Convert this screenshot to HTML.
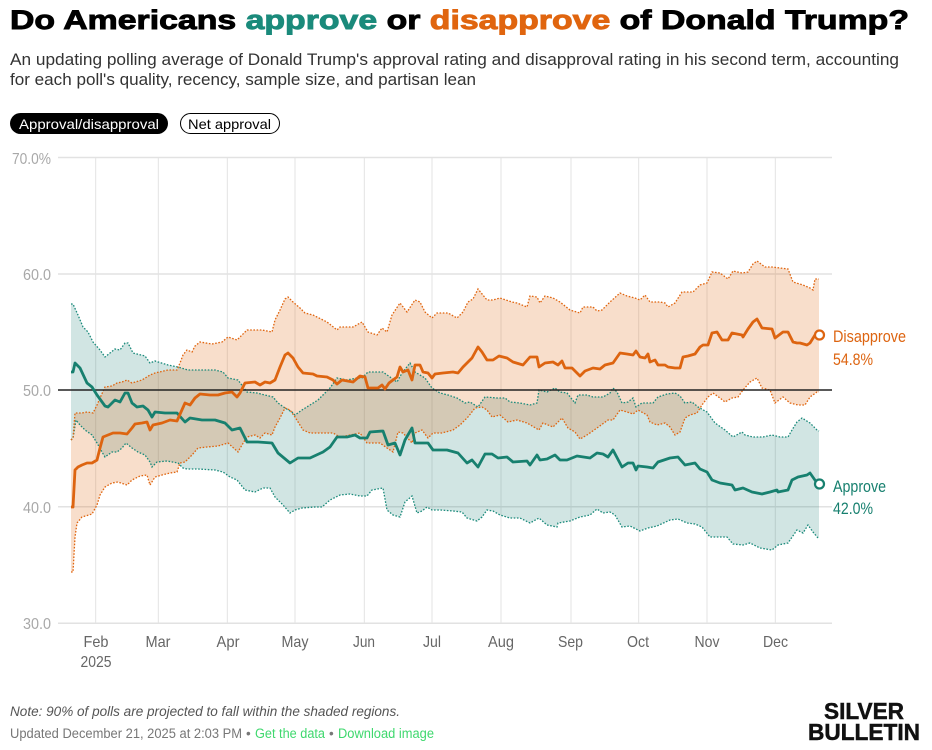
<!DOCTYPE html>
<html><head><meta charset="utf-8"><style>
html,body{margin:0;padding:0;background:#fff;}
svg{display:block;font-family:"Liberation Sans",Arial,sans-serif;}
</style></head><body>
<svg width="932" height="750" viewBox="0 0 932 750" xmlns="http://www.w3.org/2000/svg">
<rect width="932" height="750" fill="#fff"/>
<!-- Title -->
<text x="10" y="29" font-size="27" font-weight="900" textLength="899" lengthAdjust="spacingAndGlyphs" fill="#000" stroke="#000" stroke-width="0.9"><tspan>Do Americans </tspan><tspan fill="#1a8a7b" stroke="#1a8a7b">approve</tspan><tspan> or </tspan><tspan fill="#e0650f" stroke="#e0650f">disapprove</tspan><tspan> of Donald Trump?</tspan></text>
<text x="10" y="65" font-size="16.5" fill="#333" textLength="889" lengthAdjust="spacingAndGlyphs">An updating polling average of Donald Trump's approval rating and disapproval rating in his second term, accounting</text>
<text x="10" y="85" font-size="16.5" fill="#333" textLength="466" lengthAdjust="spacingAndGlyphs">for each poll's quality, recency, sample size, and partisan lean</text>
<!-- Toggles -->
<rect x="10" y="113" width="158" height="21" rx="10.5" fill="#000"/>
<text x="19" y="129" font-size="14" fill="#fff" textLength="140" lengthAdjust="spacingAndGlyphs">Approval/disapproval</text>
<rect x="180.5" y="113.5" width="99" height="20" rx="10" fill="#fff" stroke="#000" stroke-width="1"/>
<text x="188" y="129" font-size="14" fill="#000" textLength="83" lengthAdjust="spacingAndGlyphs">Net approval</text>
<!-- Grid -->
<g stroke="#e3e3e3" stroke-width="1">
<line x1="95.7" y1="157" x2="95.7" y2="623"/>
<line x1="158.3" y1="157" x2="158.3" y2="623"/>
<line x1="227.3" y1="157" x2="227.3" y2="623"/>
<line x1="295" y1="157" x2="295" y2="623"/>
<line x1="364.3" y1="157" x2="364.3" y2="623"/>
<line x1="432" y1="157" x2="432" y2="623"/>
<line x1="501" y1="157" x2="501" y2="623"/>
<line x1="571" y1="157" x2="571" y2="623"/>
<line x1="638.7" y1="157" x2="638.7" y2="623"/>
<line x1="707" y1="157" x2="707" y2="623"/>
<line x1="775.3" y1="157" x2="775.3" y2="623"/>
</g>
<g stroke="#e2e2e2" stroke-width="1.5">
<line x1="58" y1="157.5" x2="832" y2="157.5"/>
<line x1="58" y1="274" x2="832" y2="274"/>
<line x1="58" y1="506.7" x2="832" y2="506.7"/>
<line x1="58" y1="623.3" x2="832" y2="623.3"/>
</g>
<!-- Bands -->
<polygon fill="rgba(27,127,115,0.2)" points="71,304 73,304 78,315 83,327 88,332 93,342 100,350 105,357 110,353 115,349 120,350 125,343 128,343 133,353 145,356 150,363 155,361 168,365 178,367 188,370 202,370 215,370 223,372 228,378 238,380 247,392 257,393 265,395 273,397 278,403 285,408 292,412 295,415 302,410 310,405 318,400 325,393 330,388 337,378 347,380 357,378 362,378 368,372 383,372 390,377 397,382 402,373 410,363 415,372 425,378 432,388 440,393 448,395 457,398 465,403 470,402 478,407 485,397 497,398 505,398 510,402 520,403 530,405 537,403 539,390 547,392 555,388 560,392 567,393 575,403 578,395 587,395 593,397 603,397 610,393 613,388 617,392 622,403 628,402 633,398 636,407 642,403 653,403 658,397 667,394 675,393 680,396 685,403 692,402 698,407 707,412 715,423 725,430 733,437 742,432 745,435 753,437 763,437 772,435 780,437 788,437 792,430 797,422 802,418 810,423 817,430 819,431 819,537 818,538 813,532 808,525 803,533 797,530 788,543 778,545 772,550 760,548 750,543 743,545 733,544 727,537 710,537 702,527 695,524 687,523 678,519 670,520 657,526 648,528 640,531 630,526 622,527 615,515 610,512 603,513 597,509 590,515 580,517 570,521 558,523 557,527 547,525 539,518 530,523 520,518 510,518 500,515 493,511 487,510 482,517 477,521 467,518 462,512 453,511 440,510 432,510 427,507 422,511 417,513 412,496 405,502 400,517 393,515 387,510 383,488 372,490 367,496 360,496 350,494 340,495 330,500 322,507 315,507 302,508 295,510 290,513 283,505 275,497 270,488 263,488 255,492 245,490 237,480 230,477 223,472 215,470 198,469 187,469 183,468 178,463 167,461 157,462 152,467 150,462 145,455 138,452 132,448 126,443 122,448 117,452 112,452 105,457 102,452 97,443 92,435 85,430 80,425 76,420 73,438 71,440"/>
<polygon fill="rgba(224,103,16,0.22)" points="71,440 73,438 75,413 82,413 87,412 93,413 97,405 100,398 105,387 112,386 117,383 122,382 127,380 132,383 142,380 150,375 155,373 168,370 177,370 180,363 183,355 187,350 192,352 195,346 200,342 212,344 222,342 228,337 237,340 240,337 247,330 262,330 272,332 275,320 280,310 285,299 288,297 293,302 300,308 305,313 313,315 327,322 337,330 340,327 353,327 362,322 368,332 377,335 382,328 387,332 392,315 400,303 407,312 415,300 420,302 425,312 432,318 437,313 448,313 457,318 463,312 468,302 473,299 478,289 487,300 493,300 500,298 512,302 517,303 527,307 530,296 537,297 540,303 545,296 553,298 560,302 570,310 580,313 583,307 593,307 597,311 602,310 610,302 620,293 627,296 635,298 640,300 645,295 650,302 660,302 665,303 668,307 675,303 682,292 693,292 700,285 707,283 712,272 720,273 728,279 733,271 742,273 748,272 753,264 757,261 765,267 772,267 780,268 788,269 793,282 803,285 810,288 813,290 815,279 819,279 819,392 817,392 810,397 805,405 798,405 790,403 783,397 775,403 770,390 762,388 757,378 750,382 743,390 738,397 732,398 725,402 720,398 713,393 708,397 702,405 697,413 690,415 685,418 680,432 675,435 670,427 665,423 657,425 650,422 647,415 638,410 633,414 627,412 620,410 613,420 608,420 597,428 587,435 580,439 575,432 568,428 562,418 560,420 553,427 543,423 539,430 527,423 517,420 508,422 500,415 492,417 487,410 482,407 475,408 468,417 460,425 453,430 442,433 433,433 428,438 422,430 415,433 412,443 403,433 398,432 393,452 387,448 380,443 367,443 360,433 350,435 340,437 333,433 320,433 310,433 303,430 295,417 290,410 285,408 280,418 275,427 272,435 265,433 260,438 255,435 247,437 242,445 238,452 228,443 218,446 207,447 198,448 192,455 185,462 180,463 177,472 170,473 162,475 155,477 150,485 147,475 140,476 132,480 127,485 118,482 112,483 105,487 100,495 97,505 92,514 82,517 77,523 75,537 73,572 71,572"/>
<!-- Band outlines -->
<g fill="none" stroke-width="1.3" stroke-dasharray="1.6 1.6">
<polyline stroke="#1a8a7b" points="71,304 73,304 78,315 83,327 88,332 93,342 100,350 105,357 110,353 115,349 120,350 125,343 128,343 133,353 145,356 150,363 155,361 168,365 178,367 188,370 202,370 215,370 223,372 228,378 238,380 247,392 257,393 265,395 273,397 278,403 285,408 292,412 295,415 302,410 310,405 318,400 325,393 330,388 337,378 347,380 357,378 362,378 368,372 383,372 390,377 397,382 402,373 410,363 415,372 425,378 432,388 440,393 448,395 457,398 465,403 470,402 478,407 485,397 497,398 505,398 510,402 520,403 530,405 537,403 539,390 547,392 555,388 560,392 567,393 575,403 578,395 587,395 593,397 603,397 610,393 613,388 617,392 622,403 628,402 633,398 636,407 642,403 653,403 658,397 667,394 675,393 680,396 685,403 692,402 698,407 707,412 715,423 725,430 733,437 742,432 745,435 753,437 763,437 772,435 780,437 788,437 792,430 797,422 802,418 810,423 817,430 819,431"/>
<polyline stroke="#1a8a7b" points="71,440 73,438 76,420 80,425 85,430 92,435 97,443 102,452 105,457 112,452 117,452 122,448 126,443 132,448 138,452 145,455 150,462 152,467 157,462 167,461 178,463 183,468 187,469 198,469 215,470 223,472 230,477 237,480 245,490 255,492 263,488 270,488 275,497 283,505 290,513 295,510 302,508 315,507 322,507 330,500 340,495 350,494 360,496 367,496 372,490 383,488 387,510 393,515 400,517 405,502 412,496 417,513 422,511 427,507 432,510 440,510 453,511 462,512 467,518 477,521 482,517 487,510 493,511 500,515 510,518 520,518 530,523 539,518 547,525 557,527 558,523 570,521 580,517 590,515 597,509 603,513 610,512 615,515 622,527 630,526 640,531 648,528 657,526 670,520 678,519 687,523 695,524 702,527 710,537 727,537 733,544 743,545 750,543 760,548 772,550 778,545 788,543 797,530 803,533 808,525 813,532 818,538 819,537"/>
<polyline stroke="#e0650f" points="71,440 73,438 75,413 82,413 87,412 93,413 97,405 100,398 105,387 112,386 117,383 122,382 127,380 132,383 142,380 150,375 155,373 168,370 177,370 180,363 183,355 187,350 192,352 195,346 200,342 212,344 222,342 228,337 237,340 240,337 247,330 262,330 272,332 275,320 280,310 285,299 288,297 293,302 300,308 305,313 313,315 327,322 337,330 340,327 353,327 362,322 368,332 377,335 382,328 387,332 392,315 400,303 407,312 415,300 420,302 425,312 432,318 437,313 448,313 457,318 463,312 468,302 473,299 478,289 487,300 493,300 500,298 512,302 517,303 527,307 530,296 537,297 540,303 545,296 553,298 560,302 570,310 580,313 583,307 593,307 597,311 602,310 610,302 620,293 627,296 635,298 640,300 645,295 650,302 660,302 665,303 668,307 675,303 682,292 693,292 700,285 707,283 712,272 720,273 728,279 733,271 742,273 748,272 753,264 757,261 765,267 772,267 780,268 788,269 793,282 803,285 810,288 813,290 815,279 819,279"/>
<polyline stroke="#e0650f" points="71,572 73,572 75,537 77,523 82,517 92,514 97,505 100,495 105,487 112,483 118,482 127,485 132,480 140,476 147,475 150,485 155,477 162,475 170,473 177,472 180,463 185,462 192,455 198,448 207,447 218,446 228,443 238,452 242,445 247,437 255,435 260,438 265,433 272,435 275,427 280,418 285,408 290,410 295,417 303,430 310,433 320,433 333,433 340,437 350,435 360,433 367,443 380,443 387,448 393,452 398,432 403,433 412,443 415,433 422,430 428,438 433,433 442,433 453,430 460,425 468,417 475,408 482,407 487,410 492,417 500,415 508,422 517,420 527,423 539,430 543,423 553,427 560,420 562,418 568,428 575,432 580,439 587,435 597,428 608,420 613,420 620,410 627,412 633,414 638,410 647,415 650,422 657,425 665,423 670,427 675,435 680,432 685,418 690,415 697,413 702,405 708,397 713,393 720,398 725,402 732,398 738,397 743,390 750,382 757,378 762,388 770,390 775,403 783,397 790,403 798,405 805,405 810,397 817,392 819,392"/>
</g>
<!-- 50% line -->
<line x1="58" y1="390" x2="832" y2="390" stroke="#222" stroke-width="1.5"/>
<!-- Lines -->
<polyline fill="none" stroke="#17806f" stroke-width="2.8" stroke-linejoin="round" points="71,372 73,372 75,363 80,368 87,383 92,387 97,395 105,406 108,407 115,400 120,402 125,393 128,393 132,403 137,407 143,406 148,410 152,417 155,412 165,413 177,413 185,422 190,418 202,420 215,420 225,423 232,430 240,428 247,442 258,442 272,443 278,453 290,463 298,458 310,458 323,452 330,447 337,437 347,437 355,435 360,438 367,438 370,432 383,431 388,445 395,443 400,455 405,440 412,428 415,443 423,443 428,443 433,450 447,450 458,453 467,463 472,460 478,467 485,454 492,454 498,458 507,457 513,462 527,461 530,465 537,455 540,460 547,459 555,455 560,460 567,460 577,456 590,458 597,453 603,454 608,457 613,450 622,467 628,463 633,463 636,470 638,466 647,467 653,468 658,462 670,458 678,457 685,465 695,463 700,469 707,472 712,480 720,483 732,485 735,490 743,488 752,492 762,494 770,492 777,490 778,492 788,490 792,480 798,477 807,475 810,473 817,483 819,484"/>
<polyline fill="none" stroke="#dd6410" stroke-width="2.8" stroke-linejoin="round" points="71,507 73,507 75,470 78,467 82,465 87,463 92,463 97,460 100,448 103,437 108,435 113,433 120,433 127,434 132,428 135,424 142,423 147,422 150,430 153,425 162,423 170,420 177,421 181,412 185,403 190,405 195,398 200,394 210,395 218,395 225,393 232,392 237,397 240,393 245,383 255,382 260,385 265,382 270,383 275,380 280,367 285,355 288,353 293,358 298,367 303,373 313,374 317,376 327,377 333,380 337,384 342,380 353,382 360,376 365,377 368,388 378,388 382,385 385,389 389,383 397,377 400,367 403,372 408,370 412,380 415,365 420,365 423,372 428,373 432,378 435,374 443,373 453,372 458,373 463,367 472,358 478,347 482,352 487,360 493,360 499,356 507,358 513,362 523,365 530,357 537,357 539,367 545,363 553,362 558,365 562,361 565,368 572,368 580,376 585,371 593,368 600,369 605,365 613,363 620,353 627,354 633,355 636,351 640,357 645,358 648,354 650,362 655,360 658,365 665,365 668,367 675,368 680,368 683,357 688,356 695,354 700,347 703,345 708,345 712,333 717,332 722,340 728,340 732,333 742,335 743,337 748,329 753,322 757,319 762,328 772,329 775,338 783,332 788,332 793,342 797,343 800,343 807,345 810,343 815,335 819,335"/>
<circle cx="819.5" cy="335" r="4.5" fill="#fff" stroke="#dd6410" stroke-width="2.2"/>
<circle cx="819.5" cy="484" r="4.5" fill="#fff" stroke="#17806f" stroke-width="2.2"/>
<!-- End labels -->
<text x="833" y="342" font-size="17" fill="#dd6410" textLength="73" lengthAdjust="spacingAndGlyphs">Disapprove</text>
<text x="833" y="365" font-size="17" fill="#dd6410" textLength="40" lengthAdjust="spacingAndGlyphs">54.8%</text>
<text x="833" y="492" font-size="17" fill="#17806f" textLength="53" lengthAdjust="spacingAndGlyphs">Approve</text>
<text x="833" y="514" font-size="17" fill="#17806f" textLength="40" lengthAdjust="spacingAndGlyphs">42.0%</text>
<!-- Y labels -->
<g font-size="16" fill="#a8a8a8" text-anchor="end">
<text x="51" y="164" textLength="39" lengthAdjust="spacingAndGlyphs">70.0%</text>
<text x="51" y="280" textLength="28" lengthAdjust="spacingAndGlyphs">60.0</text>
<text x="51" y="396" textLength="28" lengthAdjust="spacingAndGlyphs">50.0</text>
<text x="51" y="513" textLength="28" lengthAdjust="spacingAndGlyphs">40.0</text>
<text x="51" y="629" textLength="28" lengthAdjust="spacingAndGlyphs">30.0</text>
</g>
<!-- X labels -->
<g font-size="16" fill="#666">
<text x="83.5" y="647" textLength="25" lengthAdjust="spacingAndGlyphs">Feb</text>
<text x="80.5" y="667" textLength="31" lengthAdjust="spacingAndGlyphs">2025</text>
<text x="145.5" y="647" textLength="25" lengthAdjust="spacingAndGlyphs">Mar</text>
<text x="216.5" y="647" textLength="23" lengthAdjust="spacingAndGlyphs">Apr</text>
<text x="281.5" y="647" textLength="27" lengthAdjust="spacingAndGlyphs">May</text>
<text x="353" y="647" textLength="22" lengthAdjust="spacingAndGlyphs">Jun</text>
<text x="423" y="647" textLength="18" lengthAdjust="spacingAndGlyphs">Jul</text>
<text x="488" y="647" textLength="26" lengthAdjust="spacingAndGlyphs">Aug</text>
<text x="558" y="647" textLength="25" lengthAdjust="spacingAndGlyphs">Sep</text>
<text x="627" y="647" textLength="22" lengthAdjust="spacingAndGlyphs">Oct</text>
<text x="694.5" y="647" textLength="25" lengthAdjust="spacingAndGlyphs">Nov</text>
<text x="763" y="647" textLength="25" lengthAdjust="spacingAndGlyphs">Dec</text>
</g>
<!-- Footer -->
<text x="10" y="716" font-size="13.5" font-style="italic" fill="#555" textLength="390" lengthAdjust="spacingAndGlyphs">Note: 90% of polls are projected to fall within the shaded regions.</text>
<text x="10" y="738" font-size="13.5" fill="#777" textLength="232" lengthAdjust="spacingAndGlyphs">Updated December 21, 2025 at 2:03 PM</text>
<text x="246" y="738" font-size="13.5" fill="#777">•</text>
<text x="255" y="738" font-size="13.5" fill="#3fd86e" textLength="70" lengthAdjust="spacingAndGlyphs">Get the data</text>
<text x="329" y="738" font-size="13.5" fill="#777">•</text>
<text x="338" y="738" font-size="13.5" fill="#3fd86e" textLength="96" lengthAdjust="spacingAndGlyphs">Download image</text>
<!-- Logo -->
<text x="824" y="719" font-size="23" font-weight="900" fill="#111" stroke="#111" stroke-width="0.5" textLength="80" lengthAdjust="spacingAndGlyphs">SILVER</text>
<text x="808" y="740" font-size="23" font-weight="900" fill="#111" stroke="#111" stroke-width="0.5" textLength="112" lengthAdjust="spacingAndGlyphs">BULLETIN</text>
</svg>
</body></html>
